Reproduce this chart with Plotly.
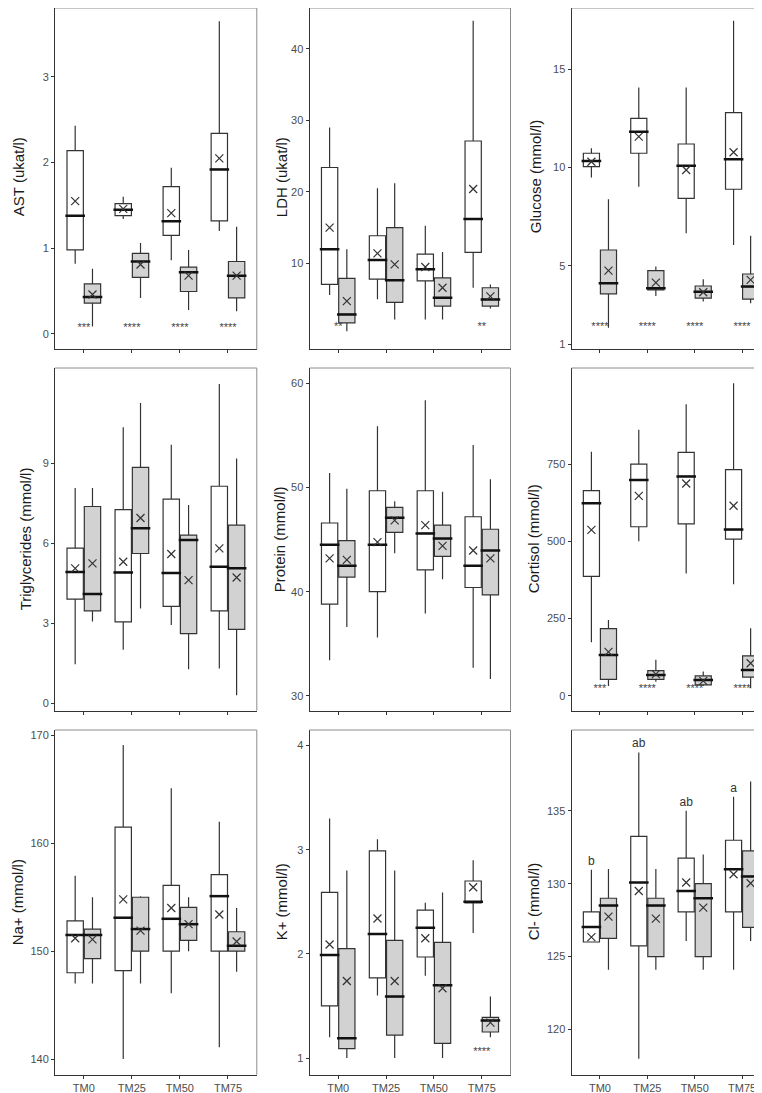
import plotly.graph_objects as go
from plotly.subplots import make_subplots

GROUPS = ["TM0", "TM25", "TM50", "TM75"]

# one row per group: [lower whisker, q1, median, q3, upper whisker, mean]
AST_1 = [[0.82, 0.98, 1.38, 2.14, 2.43, 1.55], [1.34, 1.38, 1.45, 1.52, 1.60, 1.46],
         [0.86, 1.15, 1.315, 1.72, 1.94, 1.41], [1.20, 1.32, 1.92, 2.34, 3.65, 2.05]]
AST_2 = [[0.085, 0.36, 0.43, 0.585, 0.76, 0.46], [0.42, 0.66, 0.845, 0.94, 1.06, 0.81],
         [0.28, 0.495, 0.72, 0.78, 0.98, 0.68], [0.265, 0.42, 0.68, 0.845, 1.25, 0.68]]
AST_SIG = ["***", "****", "****", "****"]

LDH_1 = [[5.6, 7.06, 11.96, 23.4, 29.0, 15.0], [5.0, 7.8, 10.46, 13.86, 20.5, 11.4],
         [2.17, 7.57, 9.2, 11.3, 15.26, 9.5], [6.6, 11.53, 16.2, 27.1, 43.9, 20.4]]
LDH_2 = [[0.53, 1.7, 2.87, 7.9, 11.96, 4.73], [2.17, 4.55, 7.66, 15.0, 21.2, 9.86],
         [2.17, 4.03, 5.2, 7.99, 11.6, 6.6], [3.7, 4.03, 4.97, 6.6, 7.06, 5.4]]
LDH_SIG = ["**", "", "", "**"]

GLU_1 = [[9.5, 10.05, 10.34, 10.73, 10.98, 10.3], [9.03, 10.73, 11.83, 12.5, 14.08, 11.58],
         [6.66, 8.44, 10.1, 11.2, 14.08, 9.88], [6.07, 8.9, 10.42, 12.8, 17.47, 10.78]]
GLU_2 = [[1.86, 3.58, 4.12, 5.81, 8.39, 4.76], [3.47, 3.78, 3.86, 4.76, 4.97, 4.15],
         [3.19, 3.36, 3.69, 3.98, 4.32, 3.66], [3.1, 3.31, 3.95, 4.59, 6.53, 4.29]]
GLU_SIG = ["****", "****", "****", "****"]

TG_1 = [[1.46, 3.9, 4.92, 5.81, 8.06, 5.05], [2.0, 3.05, 4.9, 7.25, 10.34, 5.3],
        [2.93, 3.63, 4.88, 7.65, 9.68, 5.59], [1.3, 3.46, 5.11, 8.13, 11.96, 5.8]]
TG_2 = [[3.06, 3.46, 4.09, 7.37, 8.06, 5.24], [3.55, 5.61, 6.56, 8.84, 11.25, 6.94],
        [1.27, 2.61, 6.12, 6.3, 7.43, 4.61], [0.3, 2.77, 5.06, 6.67, 9.17, 4.71]]

PROT_1 = [[33.4, 38.8, 44.5, 46.6, 51.4, 43.2], [35.6, 40.0, 44.5, 49.7, 55.9, 44.76],
          [37.9, 42.1, 45.6, 49.7, 58.4, 46.4], [32.7, 40.4, 42.5, 47.2, 54.1, 43.96]]
PROT_2 = [[36.6, 41.4, 42.5, 44.9, 49.9, 43.06], [43.7, 45.7, 47.1, 48.1, 48.7, 46.85],
          [41.2, 43.4, 45.1, 46.4, 49.6, 44.4], [31.6, 39.7, 43.96, 46.0, 50.8, 43.2]]

CORT_1 = [[173, 386, 623, 664, 790, 537], [500, 547, 698, 750, 861, 647],
          [396, 556, 710, 788, 944, 687], [361, 507, 538, 732, 1012, 615]]
CORT_2 = [[31, 53, 132, 217, 245, 142], [45, 53, 67, 81, 116, 70],
          [31, 35, 51, 64, 78, 48], [24, 60, 83, 129, 218, 105]]
CORT_SIG = ["***", "****", "****", "****"]

NA_1 = [[147.0, 148.0, 151.5, 152.8, 157.0, 151.2], [140.0, 148.2, 153.1, 161.5, 169.1, 154.8],
        [146.1, 150.0, 153.0, 156.1, 165.1, 154.0], [141.1, 150.0, 155.1, 157.1, 162.0, 153.4]]
NA_2 = [[147.0, 149.3, 151.5, 152.05, 155.0, 151.1], [147.0, 150.0, 152.05, 155.0, 155.1, 151.9],
        [150.0, 151.0, 152.5, 154.06, 155.0, 152.5], [148.1, 150.0, 150.5, 151.8, 154.0, 150.9]]

K_1 = [[1.2, 1.5, 1.99, 2.59, 3.3, 2.09], [1.6, 1.77, 2.19, 2.99, 3.1, 2.34],
       [1.79, 1.97, 2.25, 2.42, 2.49, 2.15], [2.2, 2.49, 2.5, 2.7, 2.9, 2.64]]
K_2 = [[1.0, 1.09, 1.19, 2.05, 2.8, 1.74], [1.0, 1.22, 1.59, 2.13, 2.8, 1.74],
       [1.0, 1.14, 1.7, 2.11, 2.59, 1.67], [1.2, 1.25, 1.36, 1.39, 1.59, 1.34]]
K_SIG = ["", "", "", "****"]

CL_1 = [[126.0, 126.0, 127.03, 128.06, 130.95, 126.34], [118.0, 125.73, 130.08, 133.24, 139.0, 129.5],
        [126.07, 128.06, 129.5, 131.75, 135.0, 130.08], [124.1, 128.06, 130.99, 132.98, 135.96, 130.65]]
CL_2 = [[124.1, 126.25, 128.5, 129.0, 131.0, 127.74], [124.1, 125.0, 128.5, 129.0, 131.0, 127.6],
        [124.1, 125.0, 129.0, 130.0, 132.0, 128.36], [126.07, 127.0, 130.5, 132.25, 137.0, 130.03]]
CL_LETTERS = ["b", "ab", "ab", "a"]

PANELS = [
    ("AST (ukat/l)", AST_1, AST_2, AST_SIG, None),
    ("LDH (ukat/l)", LDH_1, LDH_2, LDH_SIG, None),
    ("Glucose (mmol/l)", GLU_1, GLU_2, GLU_SIG, None),
    ("Triglycerides (mmol/l)", TG_1, TG_2, None, None),
    ("Protein (mmol/l)", PROT_1, PROT_2, None, None),
    ("Cortisol (mmol/l)", CORT_1, CORT_2, CORT_SIG, None),
    ("Na+ (mmol/l)", NA_1, NA_2, None, None),
    ("K+ (mmol/l)", K_1, K_2, K_SIG, None),
    ("Cl- (mmol/l)", CL_1, CL_2, None, CL_LETTERS),
]

# per panel: y range, y ticks, height of the star labels, title centre (px)
AXES = [
    ([-0.18, 3.84], [0, 1, 2, 3], 0.07, 18),
    ([-2.0, 46.1], [10, 20, 30, 40], 1.05, 281),
    ([0.76, 18.27], [1, 5, 10, 15], 1.86, 535),
    ([-0.28, 12.56], [0, 3, 6, 9], None, 25),
    ([28.56, 61.5], [30, 40, 50, 60], None, 279),
    ([-48.6, 1061], [0, 250, 500, 750], 21, 533),
    ([138.55, 170.5], [140, 150, 160, 170], None, 17),
    ([0.84, 4.15], [1, 2, 3, 4], 1.06, 281),
    ([116.9, 140.54], [120, 125, 130, 135], None, 533),
]

# the page body adds an 8px margin, so the figure is laid out 8px smaller
PAGE_PAD = 8
W, H = 762 - PAGE_PAD, 1093 - PAGE_PAD
COL_PX = [(55, 256.8), (309.5, 510.5), (571.5, 762)]
ROW_PX = [(5, 349.3), (368, 710.7), (730, 1074.7)]
X_RANGES = [[-0.6, 3.6], [-0.6, 3.6], [-0.6, 3.42]]
DODGE = 0.18
BOX_W = 0.34
FILLS = ["white", "#d2d2d2"]
INK = "#333333"
FONT = "Liberation Sans, Arial, sans-serif"


def px_x(v):
    return (v - PAGE_PAD) / W


def px_y(v):
    return 1 - (v - PAGE_PAD) / H


fig = make_subplots(rows=3, cols=3)

for k, (title, g1, g2, sig, letters) in enumerate(PANELS):
    r, c = k // 3 + 1, k % 3 + 1
    yrange, yticks, star_y, title_px = AXES[k]
    for j, data in enumerate((g1, g2)):
        off = -DODGE if j == 0 else DODGE
        xs = [i + off for i in range(len(GROUPS))]
        fig.add_trace(go.Box(
            x=xs,
            lowerfence=[d[0] for d in data], q1=[d[1] for d in data],
            median=[d[2] for d in data], q3=[d[3] for d in data],
            upperfence=[d[4] for d in data],
            width=BOX_W, whiskerwidth=0, boxpoints=False,
            fillcolor=FILLS[j], line=dict(color=INK, width=1.2),
            showlegend=False, hoverinfo="skip",
        ), row=r, col=c)
        # thicker median line
        fig.add_trace(go.Scatter(
            x=xs, y=[d[2] for d in data], mode="markers",
            marker=dict(symbol="line-ew-open", size=14, color="#111111",
                        line=dict(color="#111111", width=2.5)),
            showlegend=False, hoverinfo="skip",
        ), row=r, col=c)
        # mean
        fig.add_trace(go.Scatter(
            x=xs, y=[d[5] for d in data], mode="markers",
            marker=dict(symbol="x-thin-open", size=8, color=INK,
                        line=dict(color=INK, width=1.2)),
            showlegend=False, hoverinfo="skip",
        ), row=r, col=c)
        if letters and j == 0:
            fig.add_trace(go.Scatter(
                x=xs, y=[d[4] + 0.55 for d in data], mode="text",
                text=letters, textfont=dict(size=12, color=INK, family=FONT),
                showlegend=False, hoverinfo="skip",
            ), row=r, col=c)
    if sig:
        fig.add_trace(go.Scatter(
            x=list(range(len(GROUPS))), y=[star_y] * len(GROUPS), mode="text",
            text=sig, textposition="middle center",
            textfont=dict(size=11, color="#444444", family=FONT),
            showlegend=False, hoverinfo="skip",
        ), row=r, col=c)

    x0, x1 = COL_PX[c - 1]
    y0, y1 = ROW_PX[r - 1]
    lo, hi = yrange
    if y0 < PAGE_PAD:
        # top of the panel would sit above the page; trim the range to match
        hi = hi - (PAGE_PAD - y0) / (y1 - y0) * (hi - lo)
        y0 = PAGE_PAD
    fig.update_xaxes(
        domain=[px_x(x0), min(px_x(x1), 1.0)], range=X_RANGES[c - 1],
        tickvals=list(range(len(GROUPS))), ticktext=GROUPS,
        showticklabels=(r == 3), ticks="outside", ticklen=3, tickcolor=INK,
        showline=True, linecolor=INK, linewidth=1, showgrid=False, zeroline=False,
        tickfont=dict(size=11, color="#4d4d4d", family=FONT),
        automargin=False, row=r, col=c,
    )
    fig.update_yaxes(
        domain=[px_y(y1), px_y(y0)], range=[lo, hi], tickvals=yticks,
        ticks="outside", ticklen=3, tickcolor=INK,
        showline=True, linecolor=INK, linewidth=1, showgrid=False, zeroline=False,
        tickfont=dict(size=11, color="#4d4d4d", family=FONT),
        automargin=False, row=r, col=c,
    )
    sfx = "" if k == 0 else str(k + 1)
    fig.add_shape(type="line", xref=f"x{sfx} domain", yref=f"y{sfx} domain",
                  x0=0, x1=1, y0=1, y1=1, line=dict(color="#8c8c8c", width=1))
    if c < 3:
        fig.add_shape(type="line", xref=f"x{sfx} domain", yref=f"y{sfx} domain",
                      x0=1, x1=1, y0=0, y1=1, line=dict(color="#8c8c8c", width=1))
    fig.add_annotation(
        text=title, textangle=-90, showarrow=False,
        x=px_x(title_px), y=px_y((ROW_PX[r - 1][0] + y1) / 2),
        xref="paper", yref="paper", xanchor="center", yanchor="middle",
        font=dict(size=15, color="#1a1a1a", family=FONT),
    )

fig.update_layout(
    width=W, height=H, margin=dict(l=0, r=0, t=0, b=0),
    paper_bgcolor="white", plot_bgcolor="white",
    font=dict(family=FONT),
)

fig.write_html("out.html")
